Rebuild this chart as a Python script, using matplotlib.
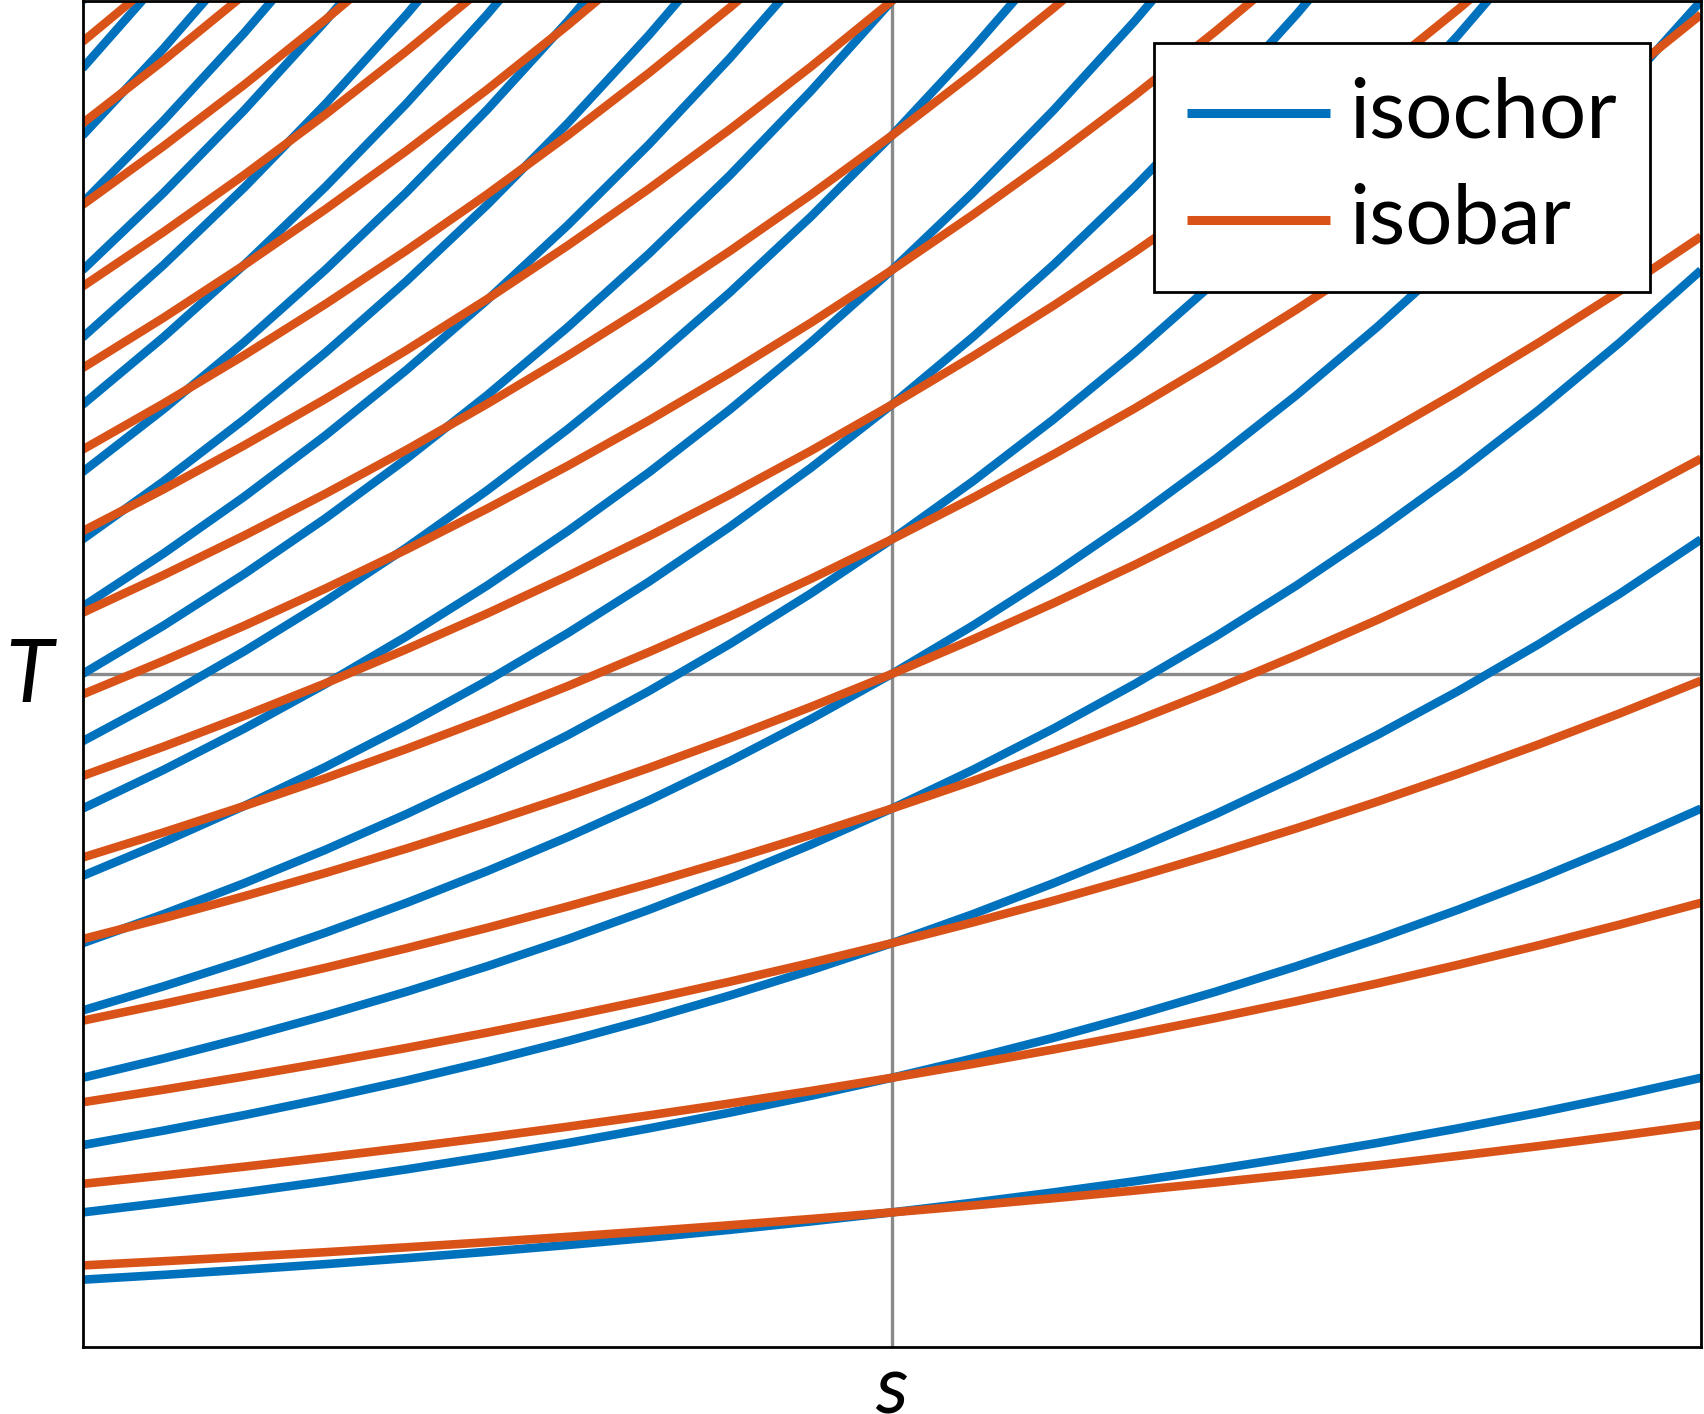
import numpy as np
import matplotlib
matplotlib.use("Agg")
import matplotlib.pyplot as plt

# ---- data ----
# temperature at which each curve crosses s = 0 (axis centre)
isochor_T0 = [1, 2, 3, 4, 5, 6, 7, 8, 9, 10, 11, 12, 13, 14, 15, 16, 17, 18, 19, 20]
isobar_T0 = [1, 2, 3, 4, 5, 6, 7, 8, 9, 10, 11, 12, 13, 14, 15, 16, 17, 18, 19, 20]
# ratio T(s=+1) / T(s=0) read at the right edge
isochor_ratio = 2.0
isobar_ratio = 1.65
s_samples = np.linspace(-1.0, 1.0, 21)
s_limits = [-1.0, 1.0]
T_limits = [0.0, 10.0]
series_labels = ["isochor", "isobar"]
axis_labels = ["s", "T"]

BLUE = "#0072BD"
ORANGE = "#D95319"

plt.rcParams['font.family'] = ['Lato', 'DejaVu Sans']

W, H = 1704, 1414
fig = plt.figure(figsize=(W / 100, H / 100), dpi=100)
ax_w, ax_h = 1701 - 82.5, 1347 - 1
ax = fig.add_axes([82.5 / W, (H - 1347) / H, ax_w / W, ax_h / H])

ax.axvline(0.0, color="#8a8a8a", lw=2.4, zorder=1)
ax.axhline(5.0, color="#8a8a8a", lw=2.4, zorder=1)

for i, T0 in enumerate(isochor_T0):
    ax.plot(s_samples, T0 * isochor_ratio ** s_samples, color=BLUE, lw=6.2,
            solid_capstyle="butt", zorder=3,
            label=series_labels[0] if i == 0 else None)
for i, T0 in enumerate(isobar_T0):
    ax.plot(s_samples, T0 * isobar_ratio ** s_samples, color=ORANGE, lw=6.2,
            solid_capstyle="butt", zorder=3,
            label=series_labels[1] if i == 0 else None)

ax.set_xlim(*s_limits)
ax.set_ylim(*T_limits)
ax.set_xticks([])
ax.set_yticks([])
for sp in ax.spines.values():
    sp.set_linewidth(2.0)
    sp.set_color("black")
    sp.set_zorder(5)

ax.set_xlabel(axis_labels[0], fontsize=59, fontstyle="italic", labelpad=5)
ax.set_ylabel(axis_labels[1], fontsize=63, fontstyle="italic", rotation=0,
              ha="right", va="center")
ax.yaxis.set_label_coords(-(82.5 - 53) / ax_w, 0.5 - 4 / ax_h)

leg = ax.legend(loc="upper right", bbox_to_anchor=(1 - 9 / ax_w, 1.0),
                fontsize=60, frameon=True, fancybox=False,
                edgecolor="black", framealpha=1.0, borderaxespad=0.5,
                handlelength=1.72, handletextpad=0.23, borderpad=0.4,
                labelspacing=0.37, handleheight=0.3)
leg.get_frame().set_linewidth(2.0)
for h in leg.get_lines():
    h.set_linewidth(6.5)
leg.set_zorder(10)

fig.savefig("out.png", dpi=100)
